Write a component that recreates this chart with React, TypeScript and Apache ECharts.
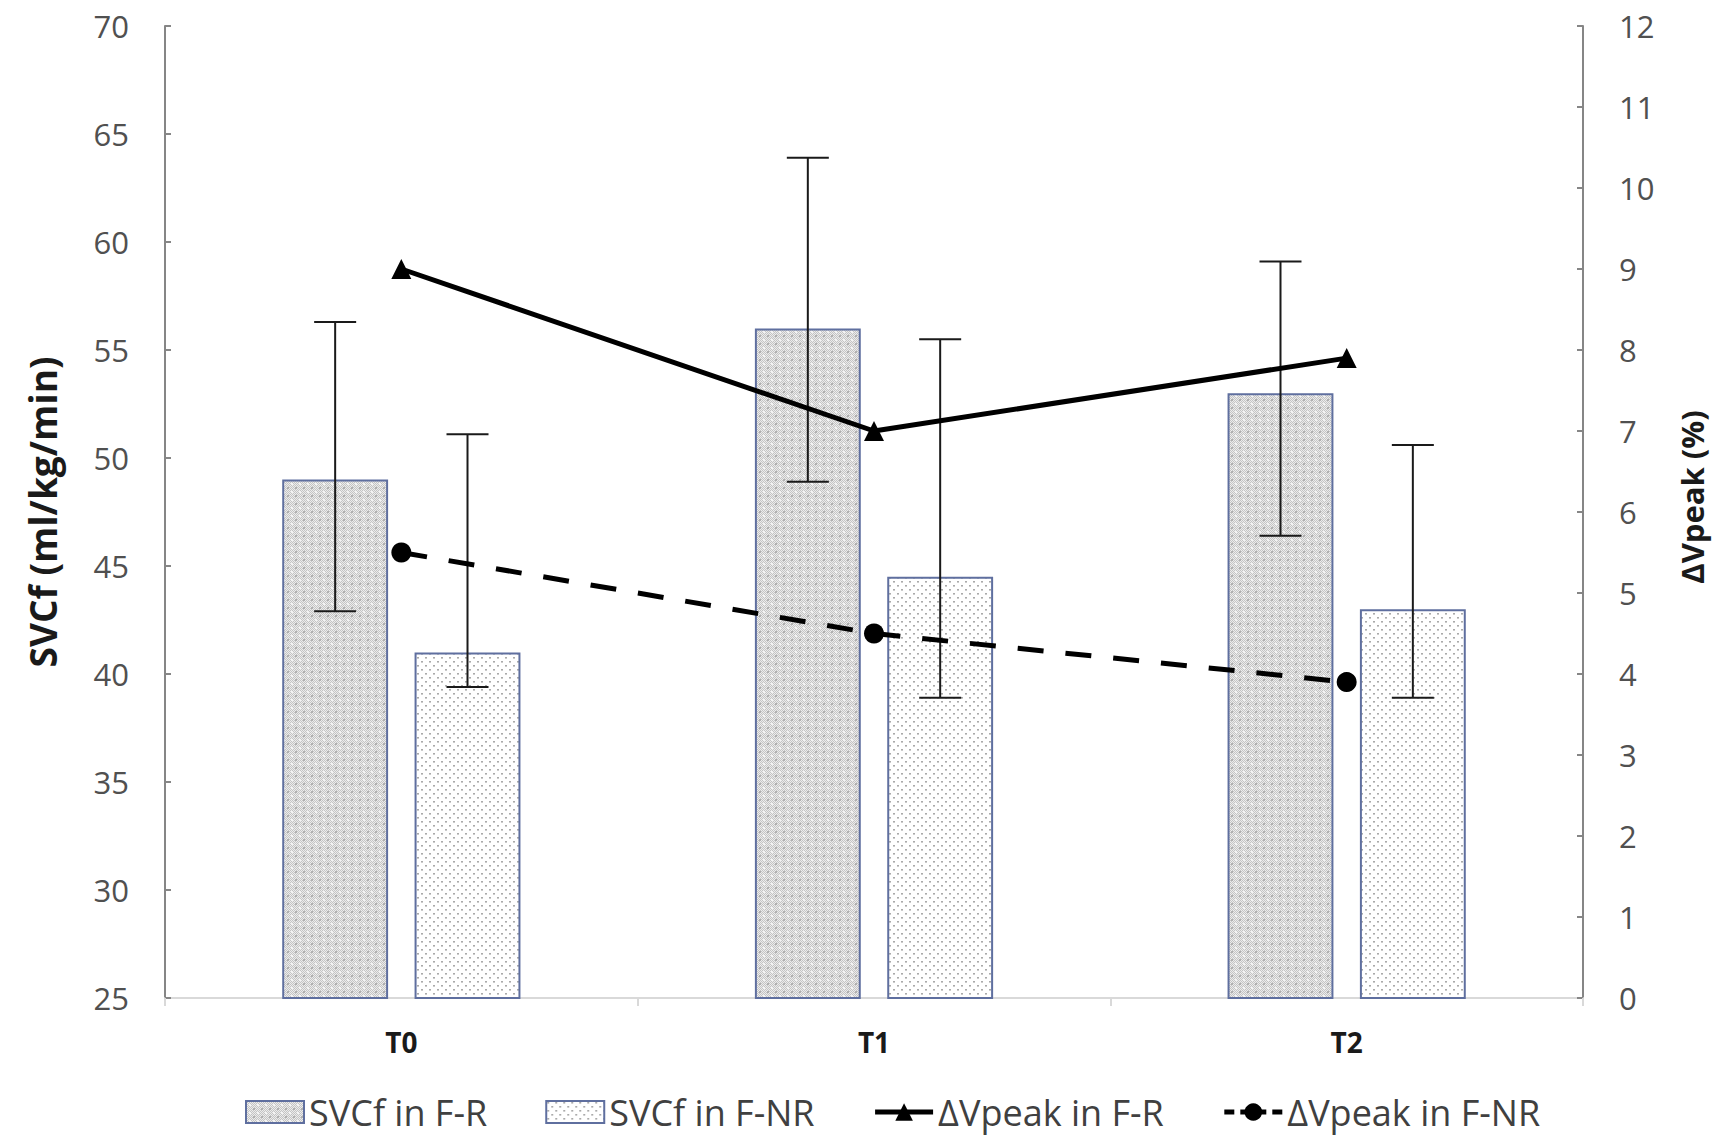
import React, { useEffect, useRef } from "react";
import * as echarts from "echarts";

const categories = ["T0", "T1", "T2"];
const svcfFR = [49, 56, 53];
const svcfFNR = [41, 44.5, 43];
const svcfFRLow = [42.9, 48.9, 46.4];
const svcfFRHigh = [56.3, 63.9, 59.1];
const svcfFNRLow = [39.4, 38.9, 38.9];
const svcfFNRHigh = [51.1, 55.5, 50.6];
const vpeakFR = [9.0, 7.0, 7.9];
const vpeakFNR = [5.5, 4.5, 3.9];

const seriesNames = ["SVCf in F-R", "SVCf in F-NR", "ΔVpeak in F-R", "ΔVpeak in F-NR"];
const leftAxisName = "SVCf (ml/kg/min)";
const rightAxisName = "ΔVpeak (%)";

const BAR_W = 0.224;
const BAR_GAP = 0.25;
const FONT = "'Open Sans', 'Noto Sans', sans-serif";

function makeTile(kind: "fr" | "fnr"): HTMLCanvasElement {
  const c = document.createElement("canvas");
  c.width = 8;
  c.height = 8;
  const ctx = c.getContext("2d")!;
  if (kind === "fr") {
    for (let y = 0; y < 8; y++) {
      for (let x = 0; x < 8; x++) {
        let col = (x + y) % 2 === 0 ? "#c4c4c4" : "#ececec";
        if ((x === 3 || x === 4) && (y === 3 || y === 4)) col = "#f3f3f3";
        if ((x === 0 || x === 7) && (y === 0 || y === 7)) col = "#b0b0b0";
        ctx.fillStyle = col;
        ctx.fillRect(x, y, 1, 1);
      }
    }
  } else {
    ctx.fillStyle = "#ffffff";
    ctx.fillRect(0, 0, 8, 8);
    ctx.fillStyle = "#aaaaaa";
    ctx.fillRect(1, 1, 2, 1);
    ctx.fillRect(5, 5, 2, 1);
    ctx.fillStyle = "#cccccc";
    ctx.fillRect(1, 2, 2, 1);
    ctx.fillRect(5, 6, 2, 1);
  }
  return c;
}

function errorBarSeries(low: number[], high: number[], side: number, name: string) {
  return {
    type: "custom",
    name,
    xAxisIndex: 0,
    yAxisIndex: 0,
    z: 5,
    silent: true,
    data: categories.map((_, i) => [i, low[i], high[i]]),
    renderItem: (params: any, api: any) => {
      const idx = api.value(0);
      const lo = api.coord([idx, api.value(1)]);
      const hi = api.coord([idx, api.value(2)]);
      const band = api.size([1, 0])[0];
      const w = band * BAR_W;
      const g = w * BAR_GAP;
      const x = lo[0] + side * (w + g) / 2;
      const half = 21;
      const style = { stroke: "#1a1a1a", lineWidth: 2 };
      return {
        type: "group",
        children: [
          { type: "line", shape: { x1: x, y1: lo[1], x2: x, y2: hi[1] }, style },
          { type: "line", shape: { x1: x - half, y1: lo[1], x2: x + half, y2: lo[1] }, style },
          { type: "line", shape: { x1: x - half, y1: hi[1], x2: x + half, y2: hi[1] }, style },
        ],
      };
    },
  };
}

export default function App() {
  const ref = useRef<HTMLDivElement>(null);
  useEffect(() => {
    if (!ref.current) return;
    const chart = echarts.init(ref.current, undefined, { renderer: "svg" });
    const frTile = makeTile("fr");
    const fnrTile = makeTile("fnr");
    const frFill: any = { image: frTile, repeat: "repeat", imageWidth: 8, imageHeight: 8 };
    const fnrFill: any = { image: fnrTile, repeat: "repeat", imageWidth: 8, imageHeight: 8 };
    const barBorder = "#5f6f9f";
    const axisGray = "#868686";
    const option: any = {
      animation: false,
      backgroundColor: "#ffffff",
      textStyle: { fontFamily: FONT },
      grid: { left: 165, right: 137, top: 26, bottom: 140, outerBoundsMode: "none" },
      legend: {
        left: 240,
        top: 1089,
        itemWidth: 58,
        itemHeight: 22,
        itemGap: 58,
        textStyle: { fontSize: 36, color: "#404040", fontFamily: FONT },
        data: [
          { name: seriesNames[0], icon: "rect" },
          { name: seriesNames[1], icon: "rect" },
          { name: seriesNames[2], lineStyle: { width: 5 } },
          { name: seriesNames[3], lineStyle: { width: 5, type: [10, 6] } },
        ],
      },
      xAxis: {
        type: "category",
        data: categories,
        boundaryGap: true,
        axisLine: { show: true, lineStyle: { color: "#d9d9d9", width: 2 } },
        axisTick: { show: true, alignWithLabel: false, length: 8, lineStyle: { color: "#d9d9d9", width: 2 } },
        axisLabel: { fontSize: 28, fontWeight: "bold", color: "#1a1a1a", margin: 30, fontFamily: FONT },
        splitLine: { show: false },
      },
      yAxis: [
        {
          type: "value",
          position: "left",
          min: 25,
          max: 70,
          interval: 5,
          name: leftAxisName,
          nameLocation: "middle",
          nameRotate: 90,
          nameGap: 104,
          nameTextStyle: { fontSize: 37, fontWeight: "bold", color: "#1a1a1a", fontFamily: FONT },
          axisLine: { show: true, lineStyle: { color: axisGray, width: 2 } },
          axisTick: { show: true, inside: true, length: 6, lineStyle: { color: axisGray, width: 2 } },
          axisLabel: { fontSize: 31, color: "#505050", margin: 36, fontFamily: FONT },
          splitLine: { show: false },
        },
        {
          type: "value",
          position: "right",
          min: 0,
          max: 12,
          interval: 1,
          name: rightAxisName,
          nameLocation: "middle",
          nameRotate: 90,
          nameGap: 93,
          nameTextStyle: {
            fontSize: 31,
            fontWeight: "bold",
            color: "#1a1a1a",
            fontFamily: FONT,
            padding: [0, 0, 0, 30],
          },
          axisLine: { show: true, lineStyle: { color: axisGray, width: 2 } },
          axisTick: { show: true, inside: true, length: 6, lineStyle: { color: axisGray, width: 2 } },
          axisLabel: { fontSize: 31, color: "#505050", margin: 36, fontFamily: FONT },
          splitLine: { show: false },
        },
      ],
      series: [
        {
          type: "bar",
          name: seriesNames[0],
          yAxisIndex: 0,
          data: svcfFR,
          barWidth: BAR_W * 100 + "%",
          barGap: BAR_GAP * 100 + "%",
          itemStyle: { color: frFill, borderColor: barBorder, borderWidth: 2 },
          z: 2,
        },
        {
          type: "bar",
          name: seriesNames[1],
          yAxisIndex: 0,
          data: svcfFNR,
          barWidth: BAR_W * 100 + "%",
          barGap: BAR_GAP * 100 + "%",
          itemStyle: { color: fnrFill, borderColor: barBorder, borderWidth: 2 },
          z: 2,
        },
        errorBarSeries(svcfFRLow, svcfFRHigh, -1, "errFR"),
        errorBarSeries(svcfFNRLow, svcfFNRHigh, 1, "errFNR"),
        {
          type: "line",
          name: seriesNames[2],
          yAxisIndex: 1,
          data: vpeakFR,
          symbol: "triangle",
          symbolSize: 20,
          itemStyle: { color: "#000000" },
          lineStyle: { color: "#000000", width: 5 },
          z: 10,
        },
        {
          type: "line",
          name: seriesNames[3],
          yAxisIndex: 1,
          data: vpeakFNR,
          symbol: "circle",
          symbolSize: 20,
          itemStyle: { color: "#000000" },
          lineStyle: { color: "#000000", width: 5, type: [26, 22] },
          z: 10,
        },
      ],
    };
    chart.setOption(option);
    return () => chart.dispose();
  }, []);
  return (
    <div
      ref={ref}
      style={{ position: "fixed", left: 0, top: 0, width: 1720, height: 1138, background: "#fff" }}
    />
  );
}
